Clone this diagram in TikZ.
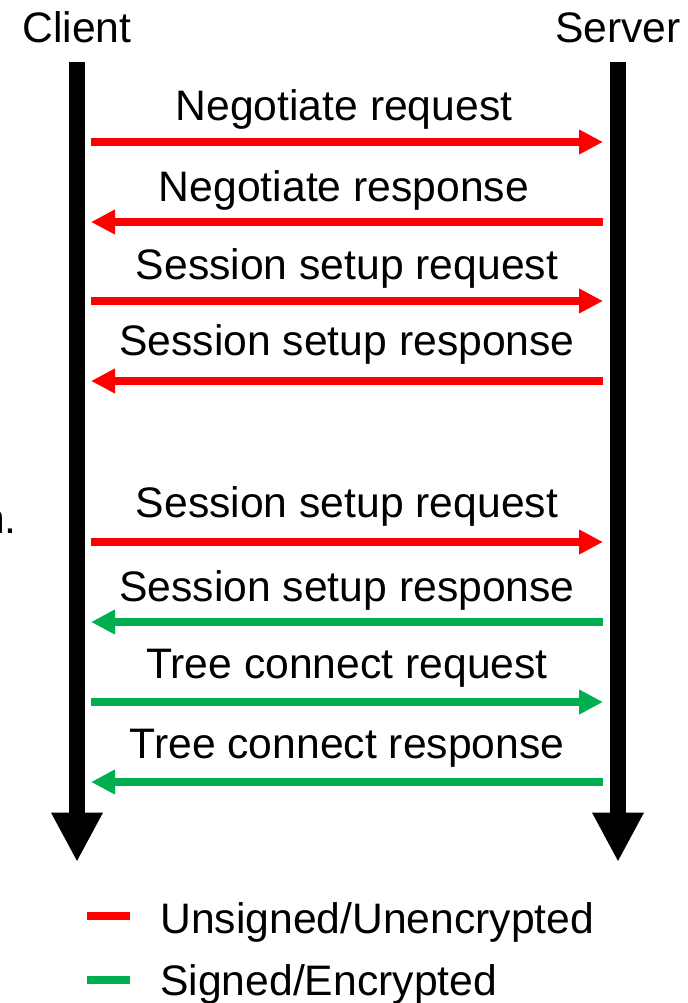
\documentclass[tikz,border=0pt]{standalone}
\usepackage{fontspec}
\setmainfont{Liberation Sans}
\usetikzlibrary{arrows.meta}

\definecolor{msgred}{RGB}{255,0,0}
\definecolor{msggreen}{RGB}{0,176,80}

\tikzset{
  lifeline/.style={line width=12pt, -{Triangle[width=36pt,length=37pt]}},
  msg/.style={line width=6pt, -{Triangle[width=17.5pt,length=18pt]}},
  lbl/.style={anchor=base, inner sep=0pt, font=\fontsize{32}{36}\selectfont},
  keyline/.style={line width=6pt}
}

\begin{document}
\begin{tikzpicture}[x=0.75pt, y=-0.75pt]
\useasboundingbox (0,0) rectangle (687,1003);

\node [lbl] (client) at (77,42) {Client};
\node [lbl] (server) at (618,42) {Server};
\node [lbl, anchor=base east] (cut) at (17,533) {n.};

\coordinate (ctop) at (77,62);
\coordinate (cbot) at (77,862);
\coordinate (stop) at (618,62);
\coordinate (sbot) at (618,862);
\draw[lifeline] (ctop) -- (cbot);
\draw[lifeline] (stop) -- (sbot);

% unsigned exchange
\coordinate (c1) at (91,142);  \coordinate (s1) at (603,142);
\coordinate (c2) at (91,222);  \coordinate (s2) at (603,222);
\coordinate (c3) at (91,301);  \coordinate (s3) at (603,301);
\coordinate (c4) at (91,381);  \coordinate (s4) at (603,381);
\draw[msg, msgred] (c1) -- (s1);
\draw[msg, msgred] (s2) -- (c2);
\draw[msg, msgred] (c3) -- (s3);
\draw[msg, msgred] (s4) -- (c4);
\node [lbl] (negreq) at (344,120) {Negotiate request};
\node [lbl] (negresp) at (344,201) {Negotiate response};
\node [lbl] (ssreq) at (347,279) {Session setup request};
\node [lbl] (ssresp) at (347,355) {Session setup response};

% second round
\coordinate (c5) at (91,542);  \coordinate (s5) at (603,542);
\coordinate (c6) at (91,622);  \coordinate (s6) at (603,622);
\coordinate (c7) at (91,702);  \coordinate (s7) at (603,702);
\coordinate (c8) at (91,782);  \coordinate (s8) at (603,782);
\draw[msg, msgred] (c5) -- (s5);
\draw[msg, msggreen] (s6) -- (c6);
\draw[msg, msggreen] (c7) -- (s7);
\draw[msg, msggreen] (s8) -- (c8);
\node [lbl] (ssreqb) at (347,517) {Session setup request};
\node [lbl] (ssrespb) at (347,601) {Session setup response};
\node [lbl] (tcreq) at (347,678) {Tree connect request};
\node [lbl] (tcresp) at (347,758) {Tree connect response};

% legend
\draw[keyline, msgred] (87,916) -- (130,916);
\node [lbl, anchor=base west] (unsigned) at (160,933) {Unsigned/Unencrypted};
\draw[keyline, msggreen] (87,980) -- (130,980);
\node [lbl, anchor=base west] (signed) at (160,995) {Signed/Encrypted};

\end{tikzpicture}
\end{document}
